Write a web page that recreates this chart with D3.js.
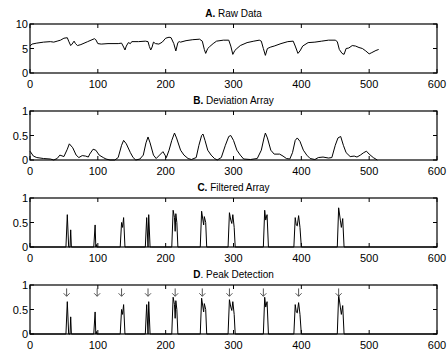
<!DOCTYPE html>
<html>
<head>
<meta charset="utf-8">
<script src="https://cdn.jsdelivr.net/npm/d3@7"></script>
<style>
  body { margin: 0; background: #fff; }
  text { font-family: "Liberation Sans", Arial, sans-serif; }
</style>
</head>
<body>
<div id="canvas"></div>
<script>
"use strict"

/* Data: [sample index, value] */
let rawX = [0, 3, 10, 20, 30, 35, 40, 45, 50, 55, 57, 60, 62, 65, 67, 70, 75, 85, 95, 97, 100, 105, 115, 130, 135, 138, 140, 142, 145, 148, 150, 160, 170, 174, 176, 178, 180, 182, 185, 190, 195, 200, 205, 208, 212, 215, 218, 220, 222, 230, 240, 250, 254, 257, 259, 262, 265, 270, 275, 285, 293, 296, 299, 302, 305, 310, 320, 330, 338, 341, 344, 347, 350, 355, 360, 370, 380, 388, 391, 395, 398, 402, 410, 420, 430, 440, 450, 453, 456, 460, 463, 466, 470, 475, 480, 485, 490, 495, 500, 503, 510, 514];
let rawY = [5.5, 5.9, 6.1, 6.3, 6.4, 6.3, 6.5, 6.7, 7.1, 7.2, 6.5, 5.6, 5.9, 6.5, 6.0, 5.6, 5.8, 6.4, 7.0, 6.8, 6.0, 5.9, 6.0, 6.0, 6.1, 5.3, 4.7, 5.5, 6.2, 6.0, 6.4, 6.4, 6.5, 6.4, 5.4, 4.7, 5.3, 6.3, 6.0, 5.9, 6.3, 7.1, 7.3, 7.2, 6.0, 4.5, 6.2, 6.4, 6.3, 6.6, 6.8, 6.9, 6.5, 4.8, 4.0, 5.0, 5.4, 6.0, 6.5, 6.7, 6.7, 5.5, 3.8, 4.6, 5.0, 5.6, 6.2, 6.5, 6.7, 6.5, 5.0, 3.6, 5.0, 5.3, 5.5, 6.0, 6.4, 6.5, 5.5, 4.0, 4.5, 5.5, 6.2, 6.3, 6.5, 6.7, 6.7, 6.4, 4.8, 4.0, 3.8, 5.0, 5.1, 5.6, 5.5, 5.2, 5.0, 4.5, 3.9, 4.1, 4.6, 4.8];

let devX = [0, 5, 10, 20, 30, 35, 40, 44, 50, 55, 58, 63, 68, 72, 77, 82, 86, 88, 93, 97, 102, 108, 112, 118, 125, 130, 135, 138, 142, 148, 152, 156, 162, 167, 171, 174, 177, 182, 186, 191, 196, 199, 201, 205, 209, 213, 216, 222, 227, 233, 238, 245, 249, 253, 255, 258, 262, 267, 272, 276, 282, 288, 293, 296, 300, 305, 310, 315, 325, 335, 341, 345, 347, 350, 355, 360, 368, 373, 378, 383, 387, 391, 394, 398, 403, 408, 413, 420, 425, 432, 440, 445, 450, 454, 458, 462, 466, 472, 478, 482, 487, 492, 496, 500, 506, 512];
let devY = [0.18, 0.08, 0.05, 0.03, 0.02, 0.0, 0.03, 0.1, 0.07, 0.22, 0.33, 0.25, 0.1, 0.05, 0.09, 0.08, 0.06, 0.12, 0.22, 0.2, 0.1, 0.05, 0.02, 0.0, 0.0, 0.05, 0.3, 0.4, 0.33, 0.15, 0.05, 0.0, 0.02, 0.1, 0.35, 0.47, 0.35, 0.1, 0.03, 0.1, 0.17, 0.1, 0.05, 0.2, 0.4, 0.55, 0.45, 0.2, 0.1, 0.03, 0.01, 0.05, 0.3, 0.5, 0.53, 0.4, 0.2, 0.1, 0.03, 0.0, 0.05, 0.3, 0.48, 0.5, 0.4, 0.2, 0.1, 0.02, 0.01, 0.03, 0.2, 0.45, 0.55, 0.45, 0.2, 0.12, 0.12, 0.08, 0.03, 0.02, 0.15, 0.4, 0.45, 0.38, 0.2, 0.1, 0.03, 0.01, 0.05, 0.06, 0.04, 0.05, 0.3, 0.45, 0.48, 0.3, 0.15, 0.07, 0.08, 0.06, 0.1, 0.15, 0.18, 0.12, 0.05, 0.0];

let filtX = [0, 53, 55, 57, 59, 60, 61, 94, 96, 97, 98, 98.5, 133, 135, 136.5, 138, 140, 142, 170, 172, 174, 175, 177, 179, 209, 211, 213, 214, 215, 216.5, 218, 251, 253, 256, 257, 259, 260.5, 292, 294, 296, 297.5, 299, 301, 302.5, 344, 346, 347.5, 349.5, 351.5, 389, 391, 392.5, 394, 396, 398, 400, 453, 455, 457.5, 459, 461, 463, 600];
let filtY = [0, 0, 0.66, 0, 0, 0.35, 0, 0, 0.45, 0, 0.05, 0, 0, 0.5, 0.4, 0.6, 0, 0, 0, 0.6, 0, 0.66, 0, 0, 0, 0.75, 0.6, 0.32, 0.68, 0.5, 0, 0, 0.73, 0.45, 0.62, 0.5, 0, 0, 0.7, 0.55, 0.48, 0.66, 0.4, 0, 0, 0.75, 0.55, 0.66, 0, 0, 0.6, 0.45, 0.43, 0.64, 0.4, 0, 0, 0.8, 0.55, 0.4, 0.58, 0, 0];

let peakX = [54, 99, 135, 174, 214, 254, 294, 344, 396, 455];

let panelTitles = [["A.", " Raw Data"], ["B.", " Deviation Array"], ["C.", " Filtered Array"], ["D", ". Peak Detection"]];
let xTicks = [0, 100, 200, 300, 400, 500, 600];
let yTicksA = [0, 5, 10];
let yTicksB = [0, 0.5, 1];

/* Layout */
let svgWidth = 448;
let svgHeight = 354;
let leftMargin = 30;
let plotWidth = 407;
let plotHeight = 49;
let panelTops = [24, 111, 198, 285];
let tickLen = 4;

let svg = d3.select("#canvas")
    .append("svg")
    .attr("width", svgWidth)
    .attr("height", svgHeight);

let xScale = d3.scaleLinear()
    .domain([0, 600])
    .range([leftMargin, leftMargin + plotWidth]);

function drawPanel(k, yMax, yTicks, xs, ys) {
    let top = panelTops[k];
    let yScale = d3.scaleLinear()
        .domain([0, yMax])
        .range([top + plotHeight, top]);

    let g = svg.append("g");

    /* data line */
    let pts = xs.map(function (x, i) { return [x, ys[i]]; });
    let line = d3.line()
        .x(function (d) { return xScale(d[0]); })
        .y(function (d) { return yScale(d[1]); });
    g.append("path")
        .attr("d", line(pts))
        .attr("fill", "none")
        .attr("stroke", "black")
        .attr("stroke-width", 1);

    /* box */
    g.append("rect")
        .attr("x", leftMargin)
        .attr("y", top)
        .attr("width", plotWidth)
        .attr("height", plotHeight)
        .attr("fill", "none")
        .attr("stroke", "black")
        .attr("stroke-width", 1.2);

    /* x ticks, inward at bottom and top */
    for (let i = 0; i < xTicks.length; i++) {
        let x = xScale(xTicks[i]);
        g.append("line")
            .attr("x1", x).attr("x2", x)
            .attr("y1", top + plotHeight).attr("y2", top + plotHeight - tickLen)
            .attr("stroke", "black");
        g.append("line")
            .attr("x1", x).attr("x2", x)
            .attr("y1", top).attr("y2", top + tickLen)
            .attr("stroke", "black");
        g.append("text")
            .attr("x", x)
            .attr("y", top + plotHeight + 15)
            .attr("text-anchor", "middle")
            .attr("font-size", 11)
            .text(xTicks[i]);
    }

    /* y ticks, inward at left and right */
    for (let i = 0; i < yTicks.length; i++) {
        let y = yScale(yTicks[i]);
        g.append("line")
            .attr("x1", leftMargin).attr("x2", leftMargin + tickLen)
            .attr("y1", y).attr("y2", y)
            .attr("stroke", "black");
        g.append("line")
            .attr("x1", leftMargin + plotWidth).attr("x2", leftMargin + plotWidth - tickLen)
            .attr("y1", y).attr("y2", y)
            .attr("stroke", "black");
        g.append("text")
            .attr("x", leftMargin - 2)
            .attr("y", y + 4)
            .attr("text-anchor", "end")
            .attr("font-size", 11)
            .text(yTicks[i]);
    }

    /* title */
    let t = g.append("text")
        .attr("x", leftMargin + plotWidth / 2)
        .attr("y", top - 7)
        .attr("text-anchor", "middle")
        .attr("font-size", 10);
    t.append("tspan").attr("font-weight", "bold").text(panelTitles[k][0]);
    t.append("tspan").text(panelTitles[k][1]);

    return yScale;
}

drawPanel(0, 10, yTicksA, rawX, rawY);
drawPanel(1, 1, yTicksB, devX, devY);
drawPanel(2, 1, yTicksB, filtX, filtY);
let yD = drawPanel(3, 1, yTicksB, filtX, filtY);

/* peak arrows */
for (let i = 0; i < peakX.length; i++) {
    let x = xScale(peakX[i]);
    let y1 = yD(0.93);
    let y2 = yD(0.77);
    svg.append("line")
        .attr("x1", x).attr("x2", x)
        .attr("y1", y1).attr("y2", y2)
        .attr("stroke", "#555");
    svg.append("path")
        .attr("d", "M" + (x - 3) + "," + (y2 - 3) + " L" + x + "," + y2 + " L" + (x + 3) + "," + (y2 - 3))
        .attr("fill", "none")
        .attr("stroke", "#555");
}
</script>
</body>
</html>
